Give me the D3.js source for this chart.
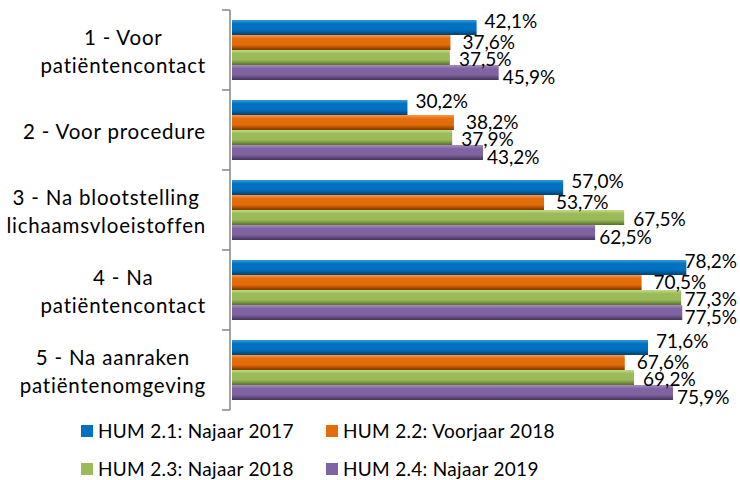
<!DOCTYPE html>
<html>
<head>
<meta charset="utf-8">
<script src="https://cdn.jsdelivr.net/npm/d3@7"></script>
<style>
body { margin: 0; background: #ffffff; }
svg text { font-family: Lato, "Open Sans", sans-serif; fill: #000000; }
</style>
</head>
<body>
<div></div>
<script>
// categorieen (regels gescheiden door |)
let categories = ["1 - Voor|patiëntencontact", "2 - Voor procedure", "3 - Na blootstelling|lichaamsvloeistoffen", "4 - Na|patiëntencontact", "5 - Na aanraken|patiëntenomgeving"];
let seriesNames = ["HUM 2.1: Najaar 2017", "HUM 2.2: Voorjaar 2018", "HUM 2.3: Najaar 2018", "HUM 2.4: Najaar 2019"];
let najaar2017 = [42.1, 30.2, 57.0, 78.2, 71.6];
let voorjaar2018 = [37.6, 38.2, 53.7, 70.5, 67.6];
let najaar2018 = [37.5, 37.9, 67.5, 77.3, 69.2];
let najaar2019 = [45.9, 43.2, 62.5, 77.5, 75.9];
let seriesValues = [najaar2017, voorjaar2018, najaar2018, najaar2019];

let colors = ["#0070C0", "#E46C0A", "#9BBB59", "#8064A2"];
let lightColors = ["#3d9be0", "#f59a4f", "#c4db8f", "#a68fc4"];
let darkColors = ["#00406e", "#7a3800", "#55702a", "#45345e"];
// label nudges per serie (Excel schuift labels uit elkaar)
let labelDx = [8, 12, 9, 4];
let labelDy = [-6, 0, 1.5, 5];

let svgWidth = 740;
let svgHeight = 480;
let axisX = 230;
let rightEdge = 737;
let catRight = 206;

let svg = d3.select("body div")
    .append("svg")
    .attr("width", svgWidth)
    .attr("height", svgHeight);

let defs = svg.append("defs");
colors.forEach(function(c, i) {
    let g = defs.append("linearGradient")
        .attr("id", "grad" + i)
        .attr("x1", 0).attr("y1", 0).attr("x2", 0).attr("y2", 1);
    g.append("stop").attr("offset", "0%").attr("stop-color", lightColors[i]);
    g.append("stop").attr("offset", "25%").attr("stop-color", c);
    g.append("stop").attr("offset", "65%").attr("stop-color", c);
    g.append("stop").attr("offset", "100%").attr("stop-color", darkColors[i]);
});

let x = d3.scaleLinear().domain([0, 100]).range([232, 813]);
let y = d3.scaleBand().domain(categories).range([10, 410]).paddingInner(0.25).paddingOuter(0.125);
let ySub = d3.scaleBand().domain(d3.range(seriesNames.length)).range([0, y.bandwidth()]);

let nl = d3.formatLocale({ decimal: ",", thousands: ".", grouping: [3], currency: ["€", ""] });
let fmt = nl.format(".1f");

// as
let step = y.step();
let tickYs = d3.range(categories.length + 1).map(function(i) { return 10 + i * step; });
svg.append("line")
    .attr("x1", axisX).attr("x2", axisX)
    .attr("y1", 10).attr("y2", 410)
    .attr("stroke", "#868686").attr("stroke-width", 1.5);
svg.selectAll(".tick")
    .data(tickYs)
    .enter().append("line")
    .attr("x1", axisX - 8).attr("x2", axisX)
    .attr("y1", function(d) { return d; }).attr("y2", function(d) { return d; })
    .attr("stroke", "#868686").attr("stroke-width", 1.5);

// balken
seriesValues.forEach(function(vals, s) {
    svg.selectAll(".bar" + s)
        .data(vals)
        .enter().append("rect")
        .attr("x", x(0))
        .attr("y", function(d, i) { return y(categories[i]) + ySub(s); })
        .attr("width", function(d) { return x(d) - x(0); })
        .attr("height", ySub.bandwidth())
        .attr("fill", "url(#grad" + s + ")");
});

// labels
seriesValues.forEach(function(vals, s) {
    svg.selectAll(".lab" + s)
        .data(vals)
        .enter().append("text")
        .attr("y", function(d, i) { return y(categories[i]) + ySub(s) + ySub.bandwidth() / 2 + labelDy[s]; })
        .attr("dy", "0.36em")
        .attr("font-size", "19px")
        .text(function(d) { return fmt(d) + "%"; })
        .attr("x", function(d) {
            let w = this.getComputedTextLength();
            return Math.min(x(d) + labelDx[s], rightEdge - w);
        });
});

// categorie labels
categories.forEach(function(c) {
    let lines = c.split("|");
    let cy = y(c) + y.bandwidth() / 2;
    let t = svg.append("text")
        .attr("font-size", "20.5px")
        .attr("letter-spacing", "0.8px")
        .attr("text-anchor", "middle");
    let spans = [];
    lines.forEach(function(line, j) {
        spans.push(t.append("tspan")
            .attr("y", cy + 9 + (j - (lines.length - 1) / 2) * 28.5)
            .text(line));
    });
    let maxW = d3.max(spans, function(sp) { return sp.node().getComputedTextLength(); });
    spans.forEach(function(sp) { sp.attr("x", catRight - maxW / 2); });
});

// legenda
let legend = svg.selectAll(".legend")
    .data(seriesNames)
    .enter().append("g")
    .attr("transform", function(d, i) {
        return "translate(" + (i % 2 == 0 ? 81 : 326) + "," + (i < 2 ? 431 : 469) + ")";
    });
legend.append("rect")
    .attr("x", 0).attr("y", -6)
    .attr("width", 12).attr("height", 12)
    .attr("fill", function(d, i) { return colors[i]; });
legend.append("text")
    .attr("x", 17).attr("y", 0)
    .attr("dy", "0.36em")
    .attr("font-size", "19px")
    .attr("letter-spacing", "0.3px")
    .text(function(d) { return d; });
</script>
</body>
</html>
